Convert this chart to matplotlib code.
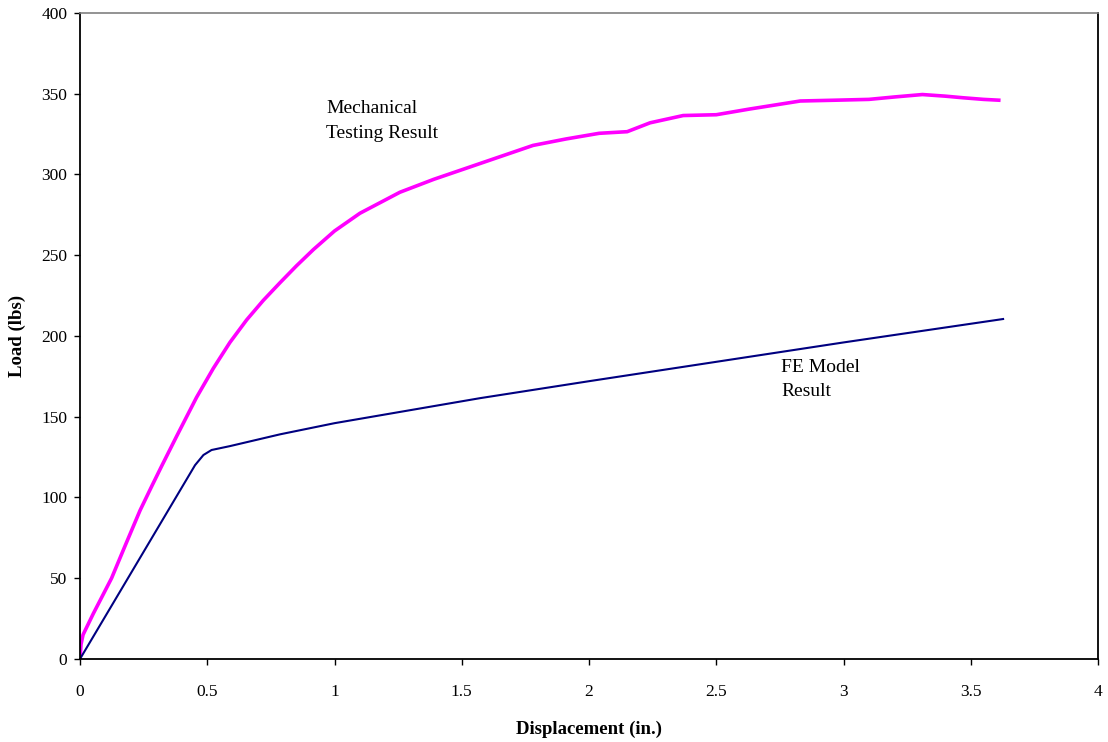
import matplotlib
matplotlib.use("Agg")
import matplotlib.pyplot as plt

# Data
test_x = [0, 0.004, 0.012, 0.052, 0.124, 0.177, 0.236, 0.282, 0.321, 0.38, 0.458,
          0.524, 0.589, 0.655, 0.72, 0.786, 0.851, 0.917, 1.0, 1.1, 1.257, 1.39,
          1.52, 1.65, 1.78, 1.91, 2.04, 2.15, 2.24, 2.37, 2.5, 2.63, 2.83, 2.97,
          3.1, 3.2, 3.31, 3.4, 3.47, 3.55, 3.61]
test_y = [0, 9, 15, 28, 50, 70, 92, 107, 119.5, 138, 162,
          180, 196, 210, 222, 233, 243.5, 253.5, 265, 276, 289, 297,
          304, 311, 318, 322, 325.5, 326.5, 332, 336.5, 337, 340.5, 345.5, 346,
          346.5, 348, 349.5, 348.5, 347.5, 346.5, 346]

fe_x = [0, 0.452, 0.485, 0.517, 0.589, 0.786, 1.0, 1.572, 2.0, 2.5, 3.0, 3.627]
fe_y = [0, 120, 126.3, 129.4, 131.8, 139.1, 146, 161.5, 172, 184, 196, 210.5]

xticks = [0, 0.5, 1, 1.5, 2, 2.5, 3, 3.5, 4]
xticklabels = ['0', '0.5', '1', '1.5', '2', '2.5', '3', '3.5', '4']
yticks = [0, 50, 100, 150, 200, 250, 300, 350, 400]

plt.rcParams['font.family'] = 'Liberation Serif'

fig = plt.figure(figsize=(11.08, 7.42), dpi=100)
ax = fig.add_axes([0.0722, 0.1119, 0.9188, 0.8706])

ax.plot(test_x, test_y, color='#FF00FF', lw=2.6, solid_joinstyle='round')
ax.plot(fe_x, fe_y, color='#000080', lw=1.5)

ax.set_xlim(0, 4)
ax.set_ylim(0, 400)
ax.set_xticks(xticks)
ax.set_xticklabels(xticklabels)
ax.set_yticks(yticks)

ax.tick_params(axis='x', direction='out', length=4, width=1, labelsize=12.5, pad=14)
ax.tick_params(axis='y', direction='out', length=4, width=1, labelsize=12.5, pad=5)

for s in ['left', 'bottom', 'right']:
    ax.spines[s].set_color('black')
    ax.spines[s].set_linewidth(1.3)
ax.spines['top'].set_color('#808080')
ax.spines['top'].set_linewidth(1.2)

ax.set_xlabel('Displacement (in.)', fontsize=13.5, fontweight='bold', labelpad=15)
ax.set_ylabel('Load (lbs)', fontsize=13.5, fontweight='bold', labelpad=11)

ax.text(0.967, 346, 'Mechanical\nTesting Result', fontsize=14, va='top', ha='left',
        linespacing=1.6)
ax.text(2.755, 186, 'FE Model\nResult', fontsize=14, va='top', ha='left',
        linespacing=1.6)

plt.savefig('out.png', dpi=100)
plt.close()
